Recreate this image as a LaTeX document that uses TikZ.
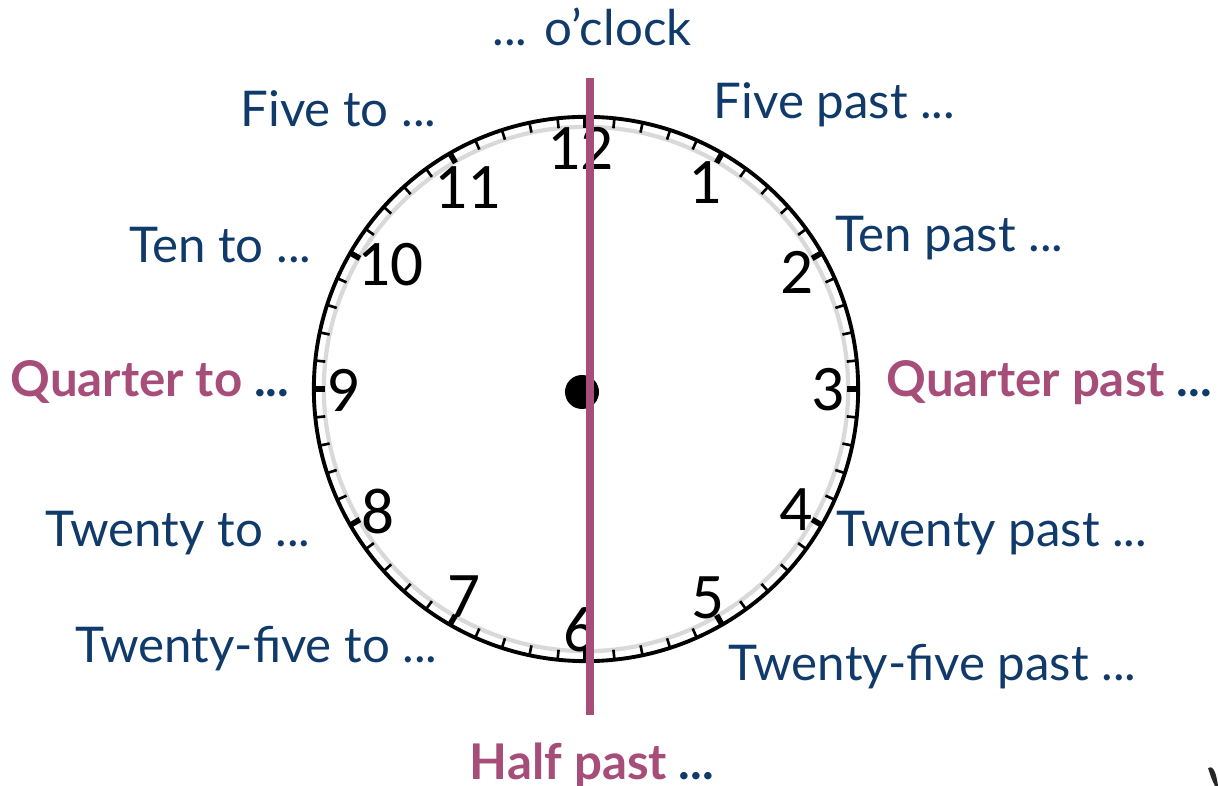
\documentclass[tikz,border=0pt]{standalone}
\usepackage{fontspec}
\setmainfont{Lato}
\newfontfamily\digitfont{Carlito}
\usetikzlibrary{positioning}
\definecolor{navy}{RGB}{16,58,105}
\definecolor{plum}{RGB}{166,77,121}

\begin{document}
\begin{tikzpicture}[
        x=0.01cm, y=-0.01cm,
        lbl/.style={text=navy, font=\fontsize{14}{16}\selectfont, inner sep=0pt},
        keylbl/.style={text=plum, font=\fontsize{14}{16}\selectfont\bfseries, inner sep=0pt},
        num/.style={font=\digitfont\fontsize{18.5}{20}\selectfont, inner sep=0pt}
    ]
        \useasboundingbox (0,0) rectangle (1218,786);
        \coordinate (c) at (586,389);

        % Clock face
        \draw[black!15, line width=1.2pt] (c) circle[radius=2.62cm];
        \draw[line width=1.1pt] (c) circle[radius=2.72cm];
        \foreach \m in {0,...,59} {
            \draw[line width=0.75pt] (c) ++(\m*6:2.72cm) -- ++(\m*6+180:0.1cm);
        }
        \foreach \h in {0,30,...,330} {
            \draw[line width=1.6pt] (c) ++(\h:2.72cm) -- ++(\h+180:0.11cm);
        }

        % Numbers
        \node[num] (n12) at (580,148) {12};
        \node[num] (n1) at (705,183) {1};
        \node[num] (n2) at (797,272) {2};
        \node[num] (n3) at (828,390) {3};
        \node[num] (n4) at (796,510) {4};
        \node[num] (n5) at (708,598) {5};
        \node[num] (n6) at (580,630) {6};
        \node[num] (n7) at (464,597) {7};
        \node[num] (n8) at (378,512) {8};
        \node[num] (n9) at (343,390) {9};
        \node[num] (n10) at (390,265) {10};
        \node[num] (n11) at (467,188) {11};

        % Centre and half line
        \fill (582,392) circle[radius=0.17cm];
        \coordinate (linetop) at (590,78);
        \coordinate (linebot) at (590,715);
        \draw[plum, line width=2pt] (linetop) -- (linebot);

        % Labels
        \node[lbl, anchor=base] (oclock) at (592,46) {... o’clock};
        \node[lbl, anchor=base east] (fiveto) at (437,127) {Five to ...};
        \node[lbl, anchor=base west] (fivepast) at (713,119) {Five past ...};
        \node[lbl, anchor=base east] (tento) at (312,263) {Ten to ...};
        \node[lbl, anchor=base west] (tenpast) at (835,252) {Ten past ...};
        \node[keylbl, anchor=base east] (quarterto) at (290,397) {Quarter to \textcolor{navy}{...}};
        \node[keylbl, anchor=base west] (quarterpast) at (886,397) {Quarter past \textcolor{navy}{...}};
        \node[lbl, anchor=base east] (twentyto) at (311,547) {Twenty to ...};
        \node[lbl, anchor=base west] (twentypast) at (836,547) {Twenty past ...};
        \node[lbl, anchor=base east] (twfiveto) at (438,663) {Twenty-five to ...};
        \node[lbl, anchor=base west] (twfivepast) at (728,681) {Twenty-five past ...};
        \node[keylbl, anchor=base] (halfpast) at (592,780) {Half past \textcolor{navy}{...}};

        % Stray mark
        \fill[black!85] (1208,768) .. controls (1212,765) and (1216,770) .. (1218,786) -- (1215,786) .. controls (1212,780) .. (1208,768) -- cycle;
    \end{tikzpicture}
\end{document}
